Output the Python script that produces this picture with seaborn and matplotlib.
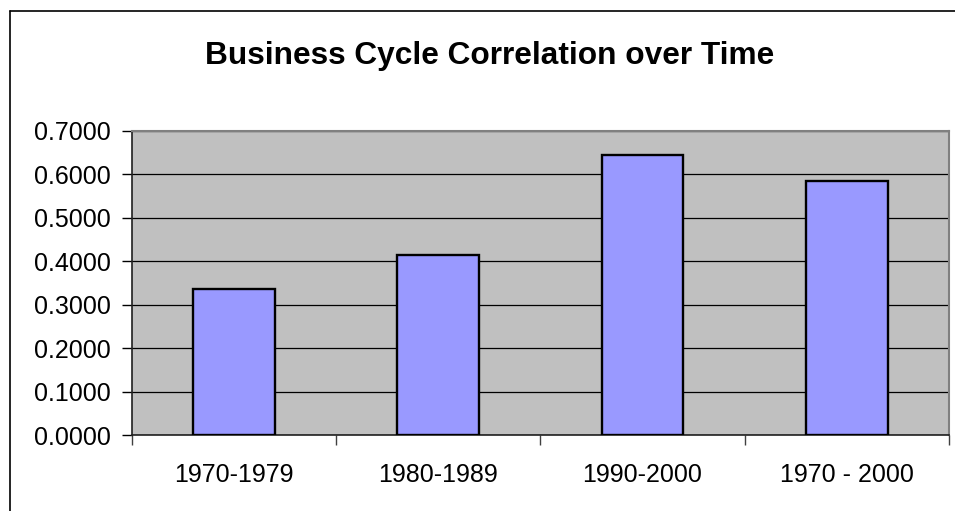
import matplotlib
matplotlib.use("Agg")
import matplotlib.pyplot as plt
import seaborn as sns
import pandas as pd
from matplotlib.lines import Line2D

periods = ["1970-1979", "1980-1989", "1990-2000", "1970 - 2000"]
correlation = [0.3359, 0.4140, 0.6448, 0.5843]
yticks = [0.0, 0.1, 0.2, 0.3, 0.4, 0.5, 0.6, 0.7]
title = "Business Cycle Correlation over Time"

df = pd.DataFrame({"period": periods, "corr": correlation})

sns.set_style("white")
plt.rcParams["font.family"] = ["Liberation Sans", "DejaVu Sans"]
plt.rcParams["text.color"] = "black"
plt.rcParams["xtick.color"] = "black"
plt.rcParams["ytick.color"] = "black"

fig = plt.figure(figsize=(9.55, 5.11), dpi=100)
ax = fig.add_axes([131.7 / 955, 76 / 511, (949 - 131.7) / 955, (435 - 130.7) / 511])
ax.set_facecolor("#C0C0C0")

sns.barplot(data=df, x="period", y="corr", ax=ax, width=0.4, color="#9999FF",
            saturation=1, edgecolor="black", linewidth=1.7, zorder=3)

ax.set_ylim(0, 0.7)
ax.set_xlim(-0.5, len(periods) - 0.5)
ax.set_yticks(yticks)
ax.set_yticklabels([f"{v:.4f}" for v in yticks])
ax.set_xlabel("")
ax.set_ylabel("")
ax.yaxis.grid(True, color="black", linewidth=0.9, zorder=1)
ax.set_axisbelow(True)

# category ticks between categories
ax.set_xticks(range(len(periods)))
ax.set_xticklabels(periods)
ax.tick_params(axis="x", which="major", bottom=True, length=0, pad=20, labelsize=18,
               labelcolor="black")
ax.set_xticks([i - 0.5 for i in range(len(periods) + 1)], minor=True)
ax.tick_params(axis="x", which="minor", bottom=True, length=7, width=1, color="#404040",
               direction="out")
ax.tick_params(axis="y", left=True, length=7, width=1, color="black", direction="out",
               pad=8, labelsize=18, labelcolor="black")

for s in ["left", "bottom"]:
    ax.spines[s].set_color("#202020")
    ax.spines[s].set_linewidth(1.2)
for s in ["top", "right"]:
    ax.spines[s].set_color("#808080")
    ax.spines[s].set_linewidth(1.5)

fig.text(490 / 955, 1 - 56 / 511, title, ha="center", va="center",
         fontsize=22.8, fontweight="bold", color="black")

# outer chart border (top and left visible)
fig.add_artist(Line2D([10 / 955, 1.0], [1 - 11 / 511, 1 - 11 / 511], transform=fig.transFigure,
                      color="black", linewidth=1.2))
fig.add_artist(Line2D([10 / 955, 10 / 955], [0, 1 - 11 / 511], transform=fig.transFigure,
                      color="black", linewidth=1.2))

fig.savefig("out.png", dpi=100)
